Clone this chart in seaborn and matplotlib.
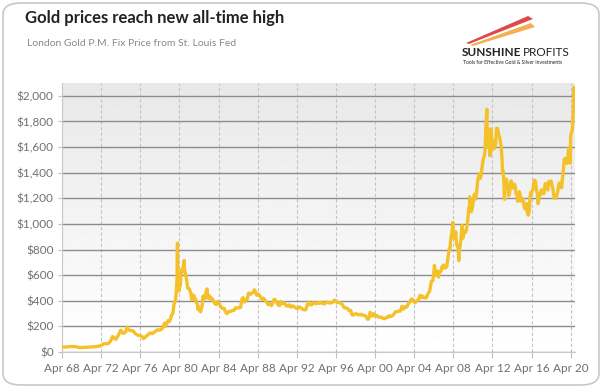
import pandas as pd
import numpy as np
import matplotlib
matplotlib.use("Agg")
from matplotlib import pyplot as plt
import matplotlib.dates as mdates
from matplotlib.patches import FancyBboxPatch, Polygon
import seaborn as sns

# London Gold P.M. fix
dates = [
    "1968-04", "1968-07", "1968-10", "1969-01", "1969-04", "1969-07", "1969-10",
    "1970-01", "1970-04", "1970-07", "1970-10", "1971-01", "1971-04", "1971-07", "1971-10",
    "1972-01", "1972-04", "1972-07", "1972-10", "1973-01", "1973-04", "1973-06", "1973-07", "1973-10",
    "1974-01", "1974-04", "1974-07", "1974-10", "1974-12", "1975-01", "1975-04", "1975-07", "1975-10",
    "1976-01", "1976-04", "1976-07", "1976-08", "1976-10", "1977-01", "1977-04", "1977-07", "1977-10",
    "1978-01", "1978-04", "1978-07", "1978-10", "1978-11",
    "1979-01", "1979-02", "1979-03", "1979-04", "1979-05", "1979-06", "1979-07", "1979-08", "1979-09",
    "1979-10", "1979-11", "1979-12",
    "1980-01-02", "1980-01-21", "1980-01-28", "1980-02", "1980-03", "1980-03-18", "1980-04", "1980-05",
    "1980-06", "1980-07", "1980-08", "1980-09", "1980-09-25", "1980-10", "1980-11", "1980-12",
    "1981-01", "1981-02", "1981-03", "1981-04", "1981-05", "1981-06", "1981-07", "1981-08", "1981-09",
    "1981-10", "1981-11", "1981-12",
    "1982-01", "1982-02", "1982-03", "1982-04", "1982-05", "1982-06", "1982-07", "1982-08", "1982-09",
    "1982-10", "1982-11", "1982-12",
    "1983-01", "1983-02", "1983-03", "1983-04", "1983-05", "1983-06", "1983-07", "1983-08", "1983-09",
    "1983-10", "1983-11", "1983-12",
    "1984-01", "1984-03", "1984-05", "1984-07", "1984-09", "1984-11", "1984-12",
    "1985-02", "1985-03", "1985-05", "1985-07", "1985-09", "1985-11",
    "1986-01", "1986-03", "1986-05", "1986-07", "1986-09", "1986-10", "1986-12",
    "1987-01", "1987-03", "1987-05", "1987-07", "1987-09", "1987-11", "1987-12",
    "1988-01", "1988-03", "1988-05", "1988-07", "1988-09", "1988-11",
    "1989-01", "1989-03", "1989-05", "1989-07", "1989-09", "1989-11", "1989-12",
    "1990-01", "1990-03", "1990-05", "1990-07", "1990-08", "1990-10", "1990-12",
    "1991-01", "1991-03", "1991-05", "1991-07", "1991-09", "1991-11",
    "1992-01", "1992-03", "1992-05", "1992-07", "1992-09", "1992-11",
    "1993-01", "1993-03", "1993-05", "1993-07", "1993-08", "1993-10", "1993-12",
    "1994-02", "1994-04", "1994-06", "1994-08", "1994-10", "1994-12",
    "1995-02", "1995-04", "1995-06", "1995-08", "1995-10", "1995-12",
    "1996-02", "1996-04", "1996-06", "1996-08", "1996-10", "1996-12",
    "1997-02", "1997-04", "1997-06", "1997-08", "1997-10", "1997-12",
    "1998-01", "1998-03", "1998-05", "1998-07", "1998-09", "1998-11",
    "1999-01", "1999-03", "1999-05", "1999-07", "1999-08", "1999-10", "1999-12",
    "2000-02", "2000-04", "2000-06", "2000-08", "2000-10", "2000-12",
    "2001-02", "2001-04", "2001-06", "2001-08", "2001-09", "2001-11",
    "2002-01", "2002-03", "2002-05", "2002-07", "2002-09", "2002-11", "2002-12",
    "2003-01", "2003-03", "2003-05", "2003-07", "2003-09", "2003-11", "2003-12",
    "2004-01", "2004-03", "2004-05", "2004-07", "2004-09", "2004-11", "2004-12",
    "2005-01", "2005-03", "2005-05", "2005-07", "2005-09", "2005-11", "2005-12",
    "2006-01", "2006-02", "2006-03", "2006-04", "2006-05", "2006-06", "2006-07", "2006-08", "2006-09",
    "2006-10", "2006-11", "2006-12",
    "2007-01", "2007-02", "2007-03", "2007-04", "2007-05", "2007-06", "2007-07", "2007-08", "2007-09",
    "2007-10", "2007-11", "2007-12",
    "2008-01", "2008-02", "2008-03", "2008-03-17", "2008-04", "2008-05", "2008-06", "2008-07", "2008-08",
    "2008-09", "2008-10", "2008-10-24", "2008-11", "2008-12",
    "2009-01", "2009-02", "2009-02-20", "2009-03", "2009-04", "2009-05", "2009-06", "2009-07", "2009-08",
    "2009-09", "2009-10", "2009-11", "2009-12-02", "2009-12",
    "2010-01", "2010-02", "2010-03", "2010-04", "2010-05", "2010-06", "2010-07", "2010-08", "2010-09",
    "2010-10", "2010-11", "2010-12",
    "2011-01", "2011-02", "2011-03", "2011-04", "2011-05", "2011-06", "2011-07", "2011-08", "2011-09-06",
    "2011-09-26", "2011-10", "2011-11", "2011-12", "2011-12-29",
    "2012-01", "2012-02", "2012-03", "2012-04", "2012-05", "2012-06", "2012-07", "2012-08", "2012-09",
    "2012-10", "2012-11", "2012-12",
    "2013-01", "2013-02", "2013-03", "2013-04-15", "2013-04", "2013-05", "2013-06", "2013-06-28",
    "2013-07", "2013-08", "2013-09", "2013-10", "2013-11", "2013-12",
    "2014-01", "2014-02", "2014-03", "2014-04", "2014-05", "2014-06", "2014-07", "2014-08", "2014-09",
    "2014-10", "2014-11", "2014-12",
    "2015-01", "2015-02", "2015-03", "2015-04", "2015-05", "2015-06", "2015-07", "2015-08", "2015-09",
    "2015-10", "2015-11", "2015-12",
    "2016-01", "2016-02", "2016-03", "2016-04", "2016-05", "2016-06", "2016-07", "2016-08", "2016-09",
    "2016-10", "2016-11", "2016-12",
    "2017-01", "2017-02", "2017-03", "2017-04", "2017-05", "2017-06", "2017-07", "2017-08", "2017-09",
    "2017-10", "2017-11", "2017-12",
    "2018-01", "2018-02", "2018-03", "2018-04", "2018-05", "2018-06", "2018-07", "2018-08", "2018-09",
    "2018-10", "2018-11", "2018-12",
    "2019-01", "2019-02", "2019-03", "2019-04", "2019-05", "2019-06", "2019-07", "2019-08", "2019-09",
    "2019-10", "2019-11", "2019-12",
    "2020-01", "2020-02", "2020-03", "2020-03-19", "2020-04", "2020-05", "2020-06", "2020-07",
    "2020-08-06", "2020-08-20",
]
prices = [
    38, 38.5, 39, 42, 43, 42, 40,
    35, 35.5, 35.3, 37.5, 38, 39.5, 41, 42.5,
    46, 49, 65, 64, 66, 90, 120, 117, 98,
    130, 170, 145, 155, 195, 176, 167, 166, 143,
    131, 128, 117, 104, 116, 132, 149, 144, 158,
    173, 170, 183, 227, 200,
    227, 245, 242, 239, 257, 279, 295, 301, 355,
    392, 392, 455,
    560, 850, 650, 665, 553, 475, 517, 514,
    600, 644, 627, 674, 715, 661, 623, 595,
    557, 500, 498, 495, 479, 461, 409, 410, 444,
    437, 413, 410,
    384, 374, 330, 350, 333, 314, 339, 364, 436,
    422, 415, 444,
    481, 492, 420, 432, 438, 413, 422, 416, 412,
    394, 381, 388,
    370, 394, 377, 348, 341, 341, 320,
    300, 304, 317, 317, 323, 326,
    345, 345, 343, 348, 418, 424, 391,
    408, 409, 460, 450, 460, 467, 486,
    477, 443, 452, 437, 413, 420,
    404, 391, 370, 375, 362, 395, 409,
    410, 394, 369, 362, 395, 380, 378,
    384, 363, 357, 368, 350, 360,
    354, 344, 337, 353, 345, 335,
    329, 330, 368, 392, 372, 367, 383,
    382, 377, 385, 380, 389, 379,
    376, 391, 387, 383, 383, 387,
    405, 393, 385, 387, 381, 369,
    347, 344, 341, 324, 325, 289,
    289, 296, 299, 293, 289, 294,
    287, 286, 277, 256, 256, 310, 279,
    300, 280, 285, 274, 270, 272,
    262, 260, 271, 272, 283, 276,
    282, 294, 314, 314, 319, 319, 333,
    357, 335, 355, 351, 379, 394, 407,
    414, 406, 384, 398, 406, 439, 442,
    424, 434, 422, 424, 456, 476, 510,
    549, 555, 557, 610, 676, 596, 633, 632, 599,
    585, 627, 629,
    631, 664, 655, 679, 667, 655, 665, 665, 712,
    754, 806, 803,
    889, 922, 968, 1011, 909, 888, 889, 939, 839,
    829, 806, 713, 760, 816,
    858, 943, 989, 924, 890, 928, 945, 934, 949,
    996, 1043, 1127, 1212, 1130,
    1117, 1095, 1113, 1148, 1205, 1232, 1193, 1215, 1271,
    1343, 1370, 1391,
    1356, 1372, 1424, 1473, 1512, 1529, 1572, 1756, 1895,
    1600, 1665, 1738, 1652, 1531,
    1656, 1742, 1673, 1650, 1585, 1596, 1594, 1630, 1745,
    1747, 1721, 1688,
    1671, 1627, 1593, 1395, 1487, 1414, 1343, 1192,
    1286, 1347, 1349, 1316, 1275, 1221,
    1244, 1300, 1336, 1299, 1287, 1279, 1311, 1295, 1239,
    1222, 1176, 1200,
    1251, 1227, 1179, 1198, 1199, 1181, 1131, 1117, 1125,
    1159, 1086, 1068,
    1097, 1200, 1246, 1242, 1259, 1276, 1337, 1341, 1326,
    1266, 1238, 1157,
    1192, 1234, 1231, 1266, 1246, 1260, 1236, 1283, 1315,
    1280, 1282, 1265,
    1331, 1331, 1325, 1335, 1303, 1282, 1238, 1201, 1198,
    1215, 1221, 1250,
    1291, 1320, 1300, 1285, 1283, 1359, 1413, 1500, 1511,
    1495, 1471, 1480,
    1560, 1597, 1591, 1474, 1683, 1715, 1732, 1847,
    2067, 1980,
]
y_ticks = [0, 200, 400, 600, 800, 1000, 1200, 1400, 1600, 1800, 2000]
x_tick_years = list(range(1968, 2021, 4))

title = "Gold prices reach new all-time high"
subtitle = "London Gold P.M. Fix Price from St. Louis Fed"

df = pd.DataFrame({"Date": pd.to_datetime(dates, format="mixed"), "Price": prices})

sns.set_style("white")
plt.rcParams['font.family'] = ['Lato', 'DejaVu Sans']

fig = plt.figure(figsize=(6.02, 3.88), dpi=100)
ax = fig.add_axes([62 / 602, 36 / 388, 513 / 602, 269 / 388])

# rounded frame round the whole picture
fig.patches.append(FancyBboxPatch((3 / 602, 3 / 388), 596 / 602, 382 / 388,
                                  boxstyle="round,pad=0,rounding_size=0.03",
                                  transform=fig.transFigure, facecolor="none",
                                  edgecolor="#c8c8c8", linewidth=1.2))

# grey-to-white background
grad = np.linspace(0.91, 1.0, 256).reshape(-1, 1)
ax.imshow(grad, extent=[0, 1, 0, 1], transform=ax.transAxes, aspect="auto",
          cmap="gray", vmin=0, vmax=1, zorder=0, origin="upper")

sns.lineplot(data=df, x="Date", y="Price", ax=ax, color="#F4C12B", linewidth=2.4, zorder=3)

ax.set_xlim(pd.Timestamp("1968-04-01"), pd.Timestamp("2020-09-10"))
ax.set_ylim(0, 2100)
ax.set_yticks(y_ticks)
ax.set_yticklabels(["${:,}".format(v) for v in y_ticks])
ax.set_xticks([pd.Timestamp(f"{y}-04-01") for y in x_tick_years])
ax.xaxis.set_major_formatter(mdates.DateFormatter("Apr %y"))
ax.set_xlabel("")
ax.set_ylabel("")

ax.grid(axis="y", color="#8c8c8c", linewidth=1.0, linestyle="-", zorder=1)
ax.grid(axis="x", color="#c4c4c4", linewidth=0.8, linestyle=(0, (3, 2)), zorder=1)
ax.set_axisbelow(True)
for s in ["top", "right"]:
    ax.spines[s].set_visible(False)
ax.spines["left"].set_color("#c8c8c8")
ax.spines["bottom"].set_color("#c8c8c8")
ax.tick_params(axis="x", colors="#c0c0c0", labelcolor="#707070", labelsize=8.5,
               length=4, width=0.8, bottom=True, pad=4)
ax.tick_params(axis="y", colors="#c0c0c0", labelcolor="#707070", labelsize=8.5,
               length=3, width=0.8, left=True, pad=3)

fig.text(25 / 602, 1 - 18 / 388, title, fontsize=12, fontweight="bold", color="#222222",
         va="center", ha="left")
fig.text(27 / 602, 1 - 44 / 388, subtitle, fontsize=7.5, color="#8a8a8a",
         va="center", ha="left")

# Sunshine Profits logo
streaks = [
    ([(466, 43), (528, 16), (533, 19), (469, 44)], "#d62a2a"),
    ([(470, 45), (531, 23), (535, 27), (473, 46)], "#f0a030"),
]
for pts, c in streaks:
    fig.patches.append(Polygon([(x / 602, 1 - y / 388) for x, y in pts], closed=True,
                               transform=fig.transFigure, facecolor=c, edgecolor="none", alpha=0.85))
fig.text(462 / 602, 1 - 53 / 388, "SUNSHINE", fontsize=8.5, fontweight="bold",
         color="#222222", va="center", ha="left")
fig.text(523 / 602, 1 - 53 / 388, "PROFITS", fontsize=8.5, color="#222222",
         va="center", ha="left")
fig.text(463 / 602, 1 - 62 / 388, "Tools for Effective Gold & Silver Investments",
         fontsize=3.6, color="#222222", va="center", ha="left")

fig.savefig("out.png", dpi=100, facecolor="white")
